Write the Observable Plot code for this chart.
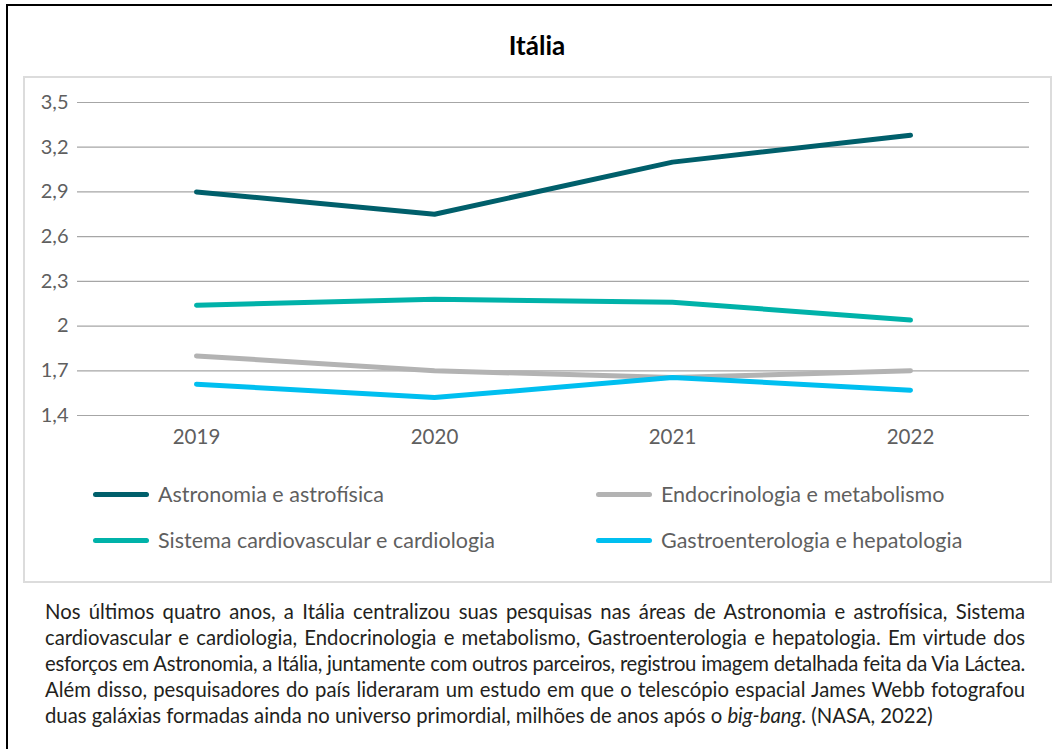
<!DOCTYPE html>
<html>
<head>
<meta charset="utf-8">
<script src="https://cdn.jsdelivr.net/npm/d3@7"></script>
<script src="https://cdn.jsdelivr.net/npm/@observablehq/plot@0.6"></script>
<style>
  html, body { margin: 0; padding: 0; background: #fff; overflow: hidden; }
  body { width: 1052px; height: 749px; position: relative; font-family: Lato, "Open Sans", sans-serif; }
  #outer { position: absolute; left: 6px; top: 4px; width: 1070px; height: 800px; border: 2px solid #000; }
  #title { position: absolute; left: 0; top: 0; width: 1058px; height: 72px; text-align: center; font-weight: 700; font-size: 26px; line-height: 26px; padding-top: 26px; box-sizing: border-box; color: #000; }
  #box { position: absolute; left: 15px; top: 70px; width: 1025px; height: 503px; border: 2px solid #dcdcdc; }
  #chart { position: absolute; left: 0; top: 0; }
  #legend { position: absolute; left: 0; top: 403px; width: 1025px; }
  .item { position: absolute; display: flex; align-items: center; font-size: 21.5px; color: #5f5f5f; white-space: nowrap; }
  .sw { width: 56px; height: 5px; border-radius: 3px; margin-right: 9px; }
  #caption { position: absolute; left: 45px; top: 598px; width: 980px; font-size: 20.3px; line-height: 26px; color: #231f20; }
  #caption div { white-space: nowrap; text-align: justify; text-align-last: justify; }
  #caption div.last { text-align-last: left; }
</style>
</head>
<body>
<div id="outer">
  <div id="title"></div>
  <div id="box">
    <div id="chart"></div>
    <div id="legend"></div>
  </div>
</div>
<div id="caption"></div>
<script>
const title = "Itália";
const years = ["2019", "2020", "2021", "2022"];
const seriesNames = ["Astronomia e astrofísica", "Endocrinologia e metabolismo", "Sistema cardiovascular e cardiologia", "Gastroenterologia e hepatologia"];
const astronomia = [2.9, 2.75, 3.1, 3.28];
const endocrinologia = [1.8, 1.7, 1.655, 1.7];
const cardiologia = [2.14, 2.18, 2.16, 2.04];
const gastroenterologia = [1.61, 1.52, 1.655, 1.57];
const seriesColors = ["#005f6b", "#b3b3b3", "#00b2a9", "#00bff0"];
const yTicks = [1.4, 1.7, 2, 2.3, 2.6, 2.9, 3.2, 3.5];
const captionLines = [
  "Nos últimos quatro anos, a Itália centralizou suas pesquisas nas áreas de Astronomia e astrofísica, Sistema",
  "cardiovascular e cardiologia, Endocrinologia e metabolismo, Gastroenterologia e hepatologia. Em virtude dos",
  "esforços em Astronomia, a Itália, juntamente com outros parceiros, registrou imagem detalhada feita da Via Láctea.",
  "Além disso, pesquisadores do país lideraram um estudo em que o telescópio espacial James Webb fotografou",
  "duas galáxias formadas ainda no universo primordial, milhões de anos após o <i>big-bang</i>. (NASA, 2022)"
];

const valuesBySeries = [astronomia, endocrinologia, cardiologia, gastroenterologia];
const data = [];
seriesNames.forEach((s, i) => years.forEach((y, j) => data.push({series: s, year: y, value: valuesBySeries[i][j]})));

document.getElementById("title").textContent = title;

const fmt = v => String(v).replace(".", ",");

const chart = Plot.plot({
  width: 1025,
  height: 382,
  marginLeft: 52,
  marginRight: 21,
  marginTop: 24,
  marginBottom: 45,
  style: {fontFamily: "Lato, 'Open Sans', sans-serif", fontSize: "20px", color: "#5f5f5f", background: "transparent", overflow: "visible"},
  x: {type: "point", domain: years, padding: 0.5, label: null},
  y: {domain: [1.4, 3.5], label: null},
  color: {domain: seriesNames, range: seriesColors},
  marks: [
    Plot.ruleY(yTicks, {stroke: "#a6a6a6", strokeWidth: 1.2}),
    Plot.axisY({ticks: yTicks, tickFormat: fmt, tickSize: 0, tickPadding: 9, fontSize: 20, fill: "#5f5f5f", label: null}),
    Plot.axisX({tickSize: 0, tickPadding: 14, fontSize: 20.5, fill: "#5f5f5f", label: null}),
    Plot.line(data, {x: "year", y: "value", z: "series", stroke: "series", strokeWidth: 5, strokeLinecap: "round", strokeLinejoin: "round"})
  ]
});
document.getElementById("chart").appendChild(chart);

const legend = document.getElementById("legend");
const pos = [[68, 0], [571, 0], [68, 46], [571, 46]];
seriesNames.forEach((s, i) => {
  const it = document.createElement("div");
  it.className = "item";
  it.style.left = pos[i][0] + "px";
  it.style.top = pos[i][1] + "px";
  const sw = document.createElement("div");
  sw.className = "sw";
  sw.style.background = seriesColors[i];
  const tx = document.createElement("span");
  tx.textContent = s;
  it.appendChild(sw); it.appendChild(tx);
  legend.appendChild(it);
});

const cap = document.getElementById("caption");
captionLines.forEach((l, i) => {
  const d = document.createElement("div");
  d.innerHTML = l;
  if (i === captionLines.length - 1) d.className = "last";
  cap.appendChild(d);
  // shrink letter spacing if natural width exceeds the column
  const probe = document.createElement("span");
  probe.innerHTML = l;
  probe.style.cssText = "position:absolute;visibility:hidden;white-space:nowrap;font-size:20.3px;";
  cap.appendChild(probe);
  const w = probe.getBoundingClientRect().width;
  cap.removeChild(probe);
  if (w > 978) {
    const n = probe.textContent.length;
    d.style.letterSpacing = ((978 - w) / n) + "px";
  }
});
</script>
</body>
</html>
